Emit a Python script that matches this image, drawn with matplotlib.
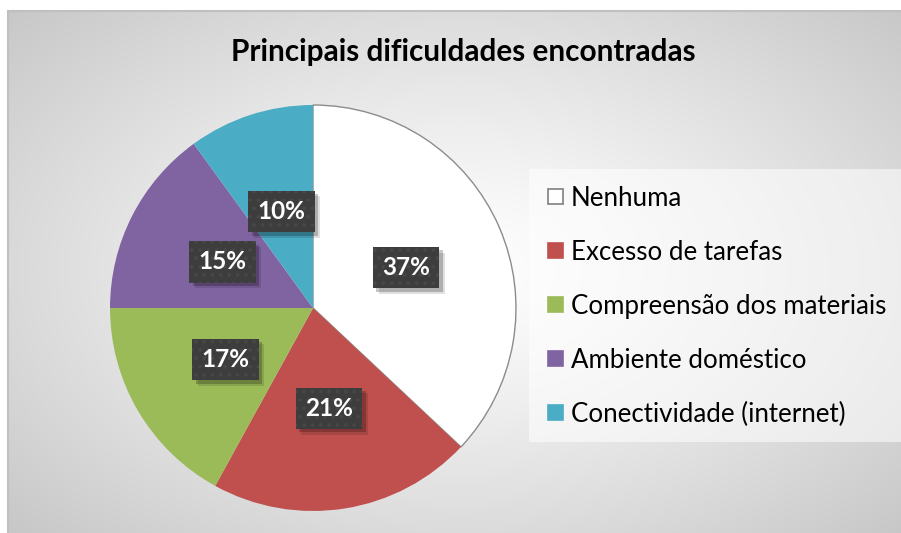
import numpy as np
import matplotlib
matplotlib.use("Agg")
import matplotlib.pyplot as plt
from matplotlib.patches import Rectangle
import matplotlib.patheffects as pe

plt.rcParams['font.family'] = ['Lato', 'DejaVu Sans']
plt.rcParams['hatch.linewidth'] = 1.5

title = "Principais dificuldades encontradas"
categories = ["Nenhuma", "Excesso de tarefas", "Compreensão dos materiais",
              "Ambiente doméstico", "Conectividade (internet)"]
values = [37, 21, 17, 15, 10]
colors = ["#ffffff", "#c0504d", "#9bbb59", "#8064a2", "#4bacc6"]

W, H = 901, 533
fig = plt.figure(figsize=(W / 100, H / 100), dpi=100)
fig.patch.set_facecolor("white")

# chart area background: radial gradient, white in the middle, grey at the corners
bx0, by_top = 8, 11
bg = fig.add_axes([bx0 / W, -0.02, 1.02 - bx0 / W, 1.02 - by_top / H])
bg.set_axis_off()
ny, nx = H - by_top + 12, W - bx0 + 12
yy, xx = np.mgrid[0:ny, 0:nx]
cx, cy = 455 - bx0, 270 - by_top
d = np.hypot((xx - cx) / 470.0, (yy - cy) / 290.0) / np.sqrt(2)
d = np.clip(d, 0, 1)
shade = 1.0 - 0.24 * d ** 1.2
img = np.dstack([shade, shade, shade])
bg.imshow(img, aspect="auto", extent=(0, 1, 0, 1), origin="upper")
bg.set_xlim(0, 1)
bg.set_ylim(0, 1)

# frame lines on the visible left and top edges
fig.add_artist(plt.Line2D([bx0 / W, bx0 / W], [0, 1 - by_top / H], color="#c0c0c0",
                          lw=1.5, transform=fig.transFigure))
fig.add_artist(plt.Line2D([bx0 / W, 1], [1 - by_top / H, 1 - by_top / H], color="#c0c0c0",
                          lw=1.5, transform=fig.transFigure))

# title
fig.text(463 / W, 1 - 52 / H, title, ha="center", va="center",
         fontsize=21.4, fontweight="bold", color="black")

# pie
pcx, pcy, pr = 313, 308, 204
ax = fig.add_axes([(pcx - pr) / W, (H - pcy - pr) / H, 2 * pr / W, 2 * pr / H])
ax.patch.set_alpha(0)
wedges, texts, autotexts = ax.pie(
    values, colors=colors, startangle=90, counterclock=False,
    autopct=lambda p: f"{p:.0f}%", pctdistance=0.5,
    wedgeprops=dict(linewidth=0),
    textprops=dict(color="white", fontsize=17.5, fontweight="bold"))
wedges[0].set_edgecolor("#8c8c8c")
wedges[0].set_linewidth(1.0)
ax.set_xlim(-1.005, 1.005)
ax.set_ylim(-1.005, 1.005)
ax.set_aspect("equal")

# dark dotted label boxes with a soft drop shadow
for t in autotexts:
    t.set_bbox(dict(boxstyle="square,pad=0.38", fc="#3d3d3d", ec="#474747",
                    lw=0, hatch=".."))
    t.get_bbox_patch().set_path_effects(
        [pe.SimplePatchShadow(offset=(4, -4), shadow_rgbFace="black", alpha=0.12, hatch=None),
         pe.SimplePatchShadow(offset=(2.5, -2.5), shadow_rgbFace="black", alpha=0.22, hatch=None),
         pe.Normal()])

# legend panel
lx0, ly0, lx1, ly1 = 529, 169, 901, 442
fig.patches.append(Rectangle((lx0 / W, 1 - ly1 / H), (lx1 - lx0) / W, (ly1 - ly0) / H,
                             transform=fig.transFigure, fc="white", alpha=0.55,
                             ec="none", zorder=1))
row0, step = 196, 54
sq = 15
for i, (name, col) in enumerate(zip(categories, colors)):
    yc = row0 + i * step
    ec = "#7f7f7f" if col == "#ffffff" else col
    fig.patches.append(Rectangle((548 / W, 1 - (yc + sq / 2) / H), sq / W, sq / H,
                                 transform=fig.transFigure, fc=col, ec=ec, lw=1.2,
                                 zorder=2))
    fig.text(571 / W, 1 - yc / H, name, ha="left", va="center_baseline",
             fontsize=18.6, color="black", zorder=3)

fig.savefig("out.png", dpi=100)
